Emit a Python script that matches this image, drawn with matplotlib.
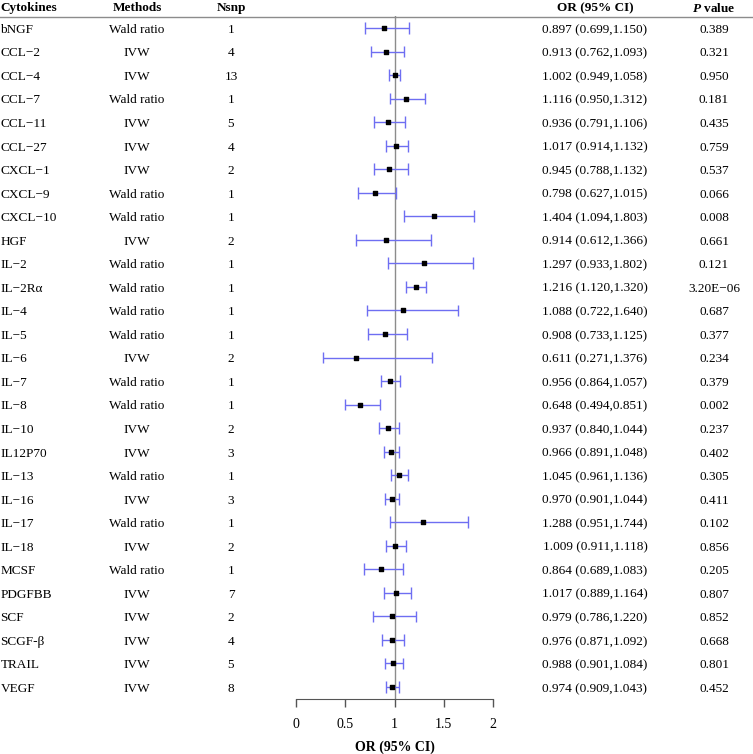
import matplotlib.pyplot as plt
import matplotlib.transforms as mtransforms
from matplotlib.lines import Line2D
import numpy as np

plt.rcParams['font.family'] = ['Liberation Serif', 'DejaVu Serif']
plt.rcParams['mathtext.fontset'] = 'custom'
plt.rcParams['mathtext.rm'] = 'Liberation Serif'
plt.rcParams['mathtext.it'] = 'Liberation Serif:italic'
plt.rcParams['mathtext.bf'] = 'Liberation Serif:bold'
plt.rcParams['mathtext.bfit'] = 'Liberation Serif:italic:bold'

cytokines = ['bNGF', 'CCL\u22122', 'CCL\u22124', 'CCL\u22127', 'CCL\u221211', 'CCL\u221227',
             'CXCL\u22121', 'CXCL\u22129', 'CXCL\u221210', 'HGF', 'IL\u22122', 'IL\u22122R\u03b1',
             'IL\u22124', 'IL\u22125', 'IL\u22126', 'IL\u22127', 'IL\u22128', 'IL\u221210',
             'IL12P70', 'IL\u221213', 'IL\u221216', 'IL\u221217', 'IL\u221218', 'MCSF',
             'PDGFBB', 'SCF', 'SCGF-\u03b2', 'TRAIL', 'VEGF']
methods = ['Wald ratio', 'IVW', 'IVW', 'Wald ratio', 'IVW', 'IVW', 'IVW', 'Wald ratio',
           'Wald ratio', 'IVW', 'Wald ratio', 'Wald ratio', 'Wald ratio', 'Wald ratio', 'IVW',
           'Wald ratio', 'Wald ratio', 'IVW', 'IVW', 'Wald ratio', 'IVW', 'Wald ratio', 'IVW',
           'Wald ratio', 'IVW', 'IVW', 'IVW', 'IVW', 'IVW']
nsnp = [1, 4, 13, 1, 5, 4, 2, 1, 1, 2, 1, 1, 1, 1, 2, 1, 1, 2, 3, 1, 3, 1, 2, 1, 7, 2, 4, 5, 8]
or_val = [0.897, 0.913, 1.002, 1.116, 0.936, 1.017, 0.945, 0.798, 1.404, 0.914, 1.297, 1.216,
          1.088, 0.908, 0.611, 0.956, 0.648, 0.937, 0.966, 1.045, 0.970, 1.288, 1.009, 0.864,
          1.017, 0.979, 0.976, 0.988, 0.974]
ci_low = [0.699, 0.762, 0.949, 0.950, 0.791, 0.914, 0.788, 0.627, 1.094, 0.612, 0.933, 1.120,
          0.722, 0.733, 0.271, 0.864, 0.494, 0.840, 0.891, 0.961, 0.901, 0.951, 0.911, 0.689,
          0.889, 0.786, 0.871, 0.901, 0.909]
ci_high = [1.150, 1.093, 1.058, 1.312, 1.106, 1.132, 1.132, 1.015, 1.803, 1.366, 1.802, 1.320,
           1.640, 1.125, 1.376, 1.057, 0.851, 1.044, 1.048, 1.136, 1.044, 1.744, 1.118, 1.083,
           1.164, 1.220, 1.092, 1.084, 1.043]
pvals = ['0.389', '0.321', '0.950', '0.181', '0.435', '0.759', '0.537', '0.066', '0.008',
         '0.661', '0.121', '3.20E\u221206', '0.687', '0.377', '0.234', '0.379', '0.002', '0.237',
         '0.402', '0.305', '0.411', '0.102', '0.856', '0.205', '0.807', '0.852', '0.668',
         '0.801', '0.452']

W, H = 753, 754
fig = plt.figure(figsize=(W / 100, H / 100), dpi=100)

# forest panel: x 0..2 maps to pixels 296..493, rows from 16 to 699
left, right = 296 / W, 493 / W
top, bottom = 1 - 16.2 / H, 1 - 698.8 / H
ax = fig.add_axes([left, bottom, right - left, top - bottom])

n = len(cytokines)
y = np.arange(n)
ax.set_xlim(0, 2)
ax.set_ylim(n - 0.5, -0.5)

ax.axvline(1, color='#8c8c8c', lw=1, zorder=1)
ci_col = '#6e6ef2'
for i in range(n):
    ax.hlines(y[i], ci_low[i], ci_high[i], color=ci_col, lw=1, zorder=2)
    ax.vlines([ci_low[i], ci_high[i]], y[i] - 0.25, y[i] + 0.25, color=ci_col, lw=1, zorder=2)
ax.scatter(or_val, y, marker='s', s=11, color='black', zorder=3)

for s in ['top', 'right', 'left']:
    ax.spines[s].set_visible(False)
ax.spines['bottom'].set_color('#555555')
ax.set_yticks([])
ax.set_xticks([0, 0.5, 1, 1.5, 2])
ax.set_xticklabels(['0', '0.5', '1', '1.5', '2'])
ax.tick_params(axis='x', length=6, width=1, color='#555555', labelsize=10, pad=8)
ax.set_xlabel('OR (95% CI)', fontsize=10, fontweight='bold', labelpad=7)

# table text
trans = mtransforms.blended_transform_factory(fig.transFigure, ax.transData)
fs = 9.5
dy = 0.08
cx = {'name': 0.5, 'method': 137, 'nsnp': 231, 'ci': 595, 'p': 714}
for i in range(n):
    yy = y[i] + dy
    ax.text(cx['name'] / W, yy, cytokines[i], transform=trans, ha='left', va='center', fontsize=fs)
    ax.text(cx['method'] / W, yy, methods[i], transform=trans, ha='center', va='center', fontsize=fs)
    ax.text(cx['nsnp'] / W, yy, str(nsnp[i]), transform=trans, ha='center', va='center', fontsize=fs)
    ci_txt = f'{or_val[i]:.3f} ({ci_low[i]:.3f},{ci_high[i]:.3f})'
    ax.text(cx['ci'] / W, yy, ci_txt, transform=trans, ha='center', va='center', fontsize=fs)
    ax.text(cx['p'] / W, yy, pvals[i], transform=trans, ha='center', va='center', fontsize=fs)

hy = 1 - 8 / H
fig.text(cx['name'] / W, hy, 'Cytokines', ha='left', va='center', fontsize=fs, fontweight='bold')
fig.text(cx['method'] / W, hy, 'Methods', ha='center', va='center', fontsize=fs, fontweight='bold')
fig.text(cx['nsnp'] / W, hy, 'Nsnp', ha='center', va='center', fontsize=fs, fontweight='bold')
fig.text(cx['ci'] / W, hy, 'OR (95% CI)', ha='center', va='center', fontsize=fs, fontweight='bold')
fig.text(cx['p'] / W, hy, r'$\bfit{P}$ value', ha='center', va='center', fontsize=fs, fontweight='bold')

fig.add_artist(Line2D([0, 1], [1 - 16.5 / H, 1 - 16.5 / H], transform=fig.transFigure,
                      color='#8c8c8c', lw=1))

fig.savefig('out.png', dpi=100)
